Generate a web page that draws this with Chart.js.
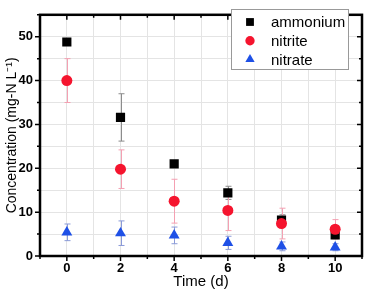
<!DOCTYPE html>
<html>
<head>
<meta charset="utf-8">
<script src="https://cdn.jsdelivr.net/npm/chart.js@4.4.1/dist/chart.umd.min.js"></script>
<style>
    html, body { margin: 0; padding: 0; background: #fff; }
    #wrap { width: 369px; height: 293px; }
</style>
</head>
<body>
<div id="wrap"><canvas id="concChart"></canvas></div>
<script>
// Time points (d) and measured concentrations (mg-N/L) with error bars
const days = [0, 2, 4, 6, 8, 10];
const ammonium = [48.8, 31.6, 21.0, 14.4, 8.2, 4.8];
const ammoniumErr = [0.8, 5.4, 0.6, 1.5, 1.2, 0.8];
const nitrite = [40.0, 19.8, 12.5, 10.4, 7.4, 6.1];
const nitriteErr = [5.0, 4.4, 5.0, 4.6, 3.5, 2.2];
const nitrate = [5.4, 5.2, 4.7, 3.0, 2.2, 2.0];
const nitrateErr = [1.9, 2.8, 1.9, 1.5, 1.0, 0.8];

const xTickLabels = [0, 2, 4, 6, 8, 10];
const yTickLabels = [0, 10, 20, 30, 40, 50];

function toPoints(ys) {
    return days.map((d, i) => ({ x: d, y: ys[i] }));
}

// Error bars, drawn underneath the markers
const errorBarPlugin = {
    id: 'errorBars',
    beforeDatasetsDraw(chart) {
        const ctx = chart.ctx;
        const xs = chart.scales.x;
        const ys = chart.scales.y;
        chart.data.datasets.forEach(ds => {
            ctx.save();
            ctx.strokeStyle = ds.errColor;
            ctx.lineWidth = 1;
            ds.data.forEach((p, i) => {
                const e = ds.errors[i];
                const px = Math.round(xs.getPixelForValue(p.x)) + 0.5;
                const top = ys.getPixelForValue(p.y + e);
                const bot = ys.getPixelForValue(Math.max(p.y - e, 0));
                ctx.beginPath();
                ctx.moveTo(px, top);
                ctx.lineTo(px, bot);
                ctx.moveTo(px - 3, top);
                ctx.lineTo(px + 3, top);
                ctx.moveTo(px - 3, bot);
                ctx.lineTo(px + 3, bot);
                ctx.stroke();
            });
            ctx.restore();
        });
    }
};

// Box frame with ticks on all four sides, plus legend inside plot
const framePlugin = {
    id: 'frame',
    afterDatasetsDraw(chart) {
        const ctx = chart.ctx;
        const a = chart.chartArea;
        const xs = chart.scales.x;
        const ys = chart.scales.y;
        ctx.save();
        ctx.strokeStyle = '#000';
        ctx.lineWidth = 1.5;
        ctx.beginPath();
        for (let v = -1; v <= 11; v++) {
            const px = xs.getPixelForValue(v);
            const len = v % 2 === 0 ? 5 : 3;
            ctx.moveTo(px, a.bottom);
            ctx.lineTo(px, a.bottom + len);
            ctx.moveTo(px, a.top);
            ctx.lineTo(px, a.top + len);
        }
        for (let v = 0; v <= 55; v += 5) {
            const py = ys.getPixelForValue(v);
            const len = v % 10 === 0 ? 5 : 3;
            ctx.moveTo(a.left, py);
            ctx.lineTo(a.left - len, py);
            ctx.moveTo(a.right, py);
            ctx.lineTo(a.right - len, py);
        }
        ctx.stroke();
        ctx.lineWidth = 2.5;
        ctx.strokeRect(a.left, a.top, a.right - a.left, a.bottom - a.top);

        // legend
        const lx = 231, ly = 9, lw = 117, lh = 60;
        ctx.fillStyle = '#fff';
        ctx.fillRect(lx, ly, lw, lh);
        ctx.lineWidth = 1;
        ctx.strokeStyle = '#999';
        ctx.strokeRect(lx + 0.5, ly + 0.5, lw, lh);
        ctx.font = '15px "Liberation Sans", Arial, sans-serif';
        ctx.textBaseline = 'middle';
        chart.data.datasets.forEach((ds, i) => {
            const cy = ly + 13 + i * 18.7;
            ctx.fillStyle = ds.backgroundColor;
            ctx.strokeStyle = ds.borderColor;
            Chart.helpers.drawPoint(ctx, {
                pointStyle: ds.pointStyle,
                radius: ds.pointRadius * 0.85,
                rotation: 0,
                borderWidth: 0
            }, 250, cy);
            ctx.fillStyle = '#000';
            ctx.fillText(ds.label, 271, cy + 1);
        });
        ctx.restore();
    }
};

const tickFont = { family: '"Liberation Sans", Arial, sans-serif', size: 13, weight: 'bold' };
const titleFont = { family: '"Liberation Sans", Arial, sans-serif', size: 14 };

new Chart(document.getElementById('concChart'), {
    type: 'scatter',
    data: {
        datasets: [
            {
                label: 'ammonium',
                data: toPoints(ammonium),
                errors: ammoniumErr,
                errColor: '#8c8c8c',
                pointStyle: 'rect',
                pointRadius: 6.5,
                backgroundColor: '#000',
                borderColor: '#000',
                borderWidth: 0,
                order: 3
            },
            {
                label: 'nitrite',
                data: toPoints(nitrite),
                errors: nitriteErr,
                errColor: '#f4a0b2',
                pointStyle: 'circle',
                pointRadius: 5.5,
                backgroundColor: '#f5142e',
                borderColor: '#f5142e',
                borderWidth: 0,
                order: 2
            },
            {
                label: 'nitrate',
                data: toPoints(nitrate),
                errors: nitrateErr,
                errColor: '#8a9ad8',
                pointStyle: 'triangle',
                pointRadius: 6.3,
                backgroundColor: '#1e50e6',
                borderColor: '#1e50e6',
                borderWidth: 0,
                order: 1
            }
        ]
    },
    options: {
        responsive: true,
        maintainAspectRatio: false,
        animation: false,
        layout: { padding: { top: 4, right: 7, left: 0, bottom: 0 } },
        plugins: {
            legend: { display: false },
            tooltip: { enabled: false }
        },
        scales: {
            x: {
                type: 'linear',
                min: -1,
                max: 11,
                afterFit: s => { s.height = 37; },
                border: { display: false },
                grid: { color: '#e4e4e4', drawTicks: false },
                ticks: {
                    stepSize: 1,
                    padding: 5,
                    color: '#000',
                    font: tickFont,
                    maxRotation: 0,
                    autoSkip: false,
                    callback: v => xTickLabels.includes(v) ? v : ''
                },
                title: {
                    display: true,
                    text: 'Time (d)',
                    color: '#000',
                    font: { family: '"Liberation Sans", Arial, sans-serif', size: 15 },
                    padding: { top: 0, bottom: 2 }
                }
            },
            y: {
                min: 0,
                max: 55,
                afterFit: s => { s.width = 40; },
                border: { display: false },
                grid: { color: '#e4e4e4', drawTicks: false },
                ticks: {
                    stepSize: 5,
                    padding: 7,
                    color: '#000',
                    font: tickFont,
                    autoSkip: false,
                    callback: v => yTickLabels.includes(v) ? v : ''
                },
                title: {
                    display: true,
                    text: 'Concentration (mg-N L\u207B\u00B9)',
                    color: '#000',
                    font: titleFont,
                    padding: { top: 4, bottom: 0 }
                }
            }
        }
    },
    plugins: [errorBarPlugin, framePlugin]
});
</script>
</body>
</html>
